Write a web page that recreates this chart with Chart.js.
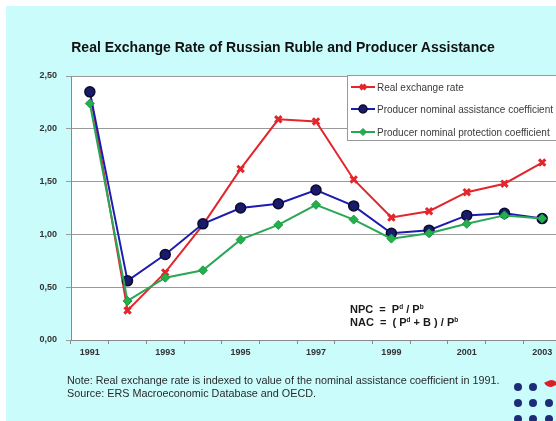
<!DOCTYPE html>
<html>
<head>
<meta charset="utf-8">
<script src="https://cdn.jsdelivr.net/npm/chart.js@4.4.1/dist/chart.umd.min.js"></script>
<style>
  html, body { margin: 0; padding: 0; width: 556px; height: 421px; overflow: hidden; background: #fff; }
  .panel { position: absolute; left: 6px; top: 6px; width: 560px; height: 420px; background: #cafcfc; }
  #chartBox { position: absolute; left: 0; top: 0; width: 600px; height: 421px; }
  .title { position: absolute; left: 0; width: 566px; top: 39px; text-align: center;
           font: bold 14px "Liberation Sans", Arial, sans-serif; color: #111; }
  .legend { position: absolute; left: 347px; top: 75px; width: 220px; height: 64px;
            background: #fff; border: 1px solid #9a9a9a; }
  .legend-row { position: absolute; left: 2px; height: 14px; display: flex; align-items: center;
                font: 10px "Liberation Sans", Arial, sans-serif; color: #3a3a3a; white-space: nowrap; }
  .legend-row canvas { margin-right: 1px; }
  .formula { position: absolute; left: 350px; font: bold 11px "Liberation Sans", Arial, sans-serif; color: #1a1a1a; white-space: pre; }
  .formula sup { font-size: 6.5px; vertical-align: 4px; }
  .note { position: absolute; left: 67px; font: 10.8px "Liberation Sans", Arial, sans-serif; color: #2a2a2a; white-space: nowrap; }
  .dot { position: absolute; width: 8px; height: 8px; border-radius: 50%; background: #1e2c78; }
  .leaf { position: absolute; left: 545px; top: 380px; width: 12px; height: 7px; background: #d8202a;
          border-radius: 0 8px 0 8px; transform: rotate(-25deg); }
</style>
</head>
<body>
<div class="panel"></div>
<div id="chartBox"><canvas id="rateChart" width="600" height="421"></canvas></div>
<div class="title">Real Exchange Rate of Russian Ruble and Producer Assistance</div>
<div class="legend" id="legend"></div>
<div class="formula" style="top:303px">NPC  =  P<sup>d</sup> / P<sup>b</sup></div>
<div class="formula" style="top:316px">NAC  =  ( P<sup>d</sup> + B ) / P<sup>b</sup></div>
<div class="note" style="top:374px">Note:  Real exchange rate is indexed to value of the nominal assistance coefficient in 1991.</div>
<div class="note" style="top:387px">Source: ERS Macroeconomic Database and OECD.</div>
<div id="logo"></div>
<div class="leaf"></div>

<script>
// Years and series
const years = ['1991', '1992', '1993', '1994', '1995', '1996', '1997',
               '1998', '1999', '2000', '2001', '2002', '2003'];
const realExchangeRate = [2.35, 0.28, 0.64, 1.09, 1.62, 2.09, 2.07, 1.52, 1.16, 1.22, 1.40, 1.48, 1.68];
const assistanceCoef   = [2.35, 0.56, 0.81, 1.10, 1.25, 1.29, 1.42, 1.27, 1.01, 1.04, 1.18, 1.20, 1.15];
const protectionCoef   = [2.24, 0.37, 0.59, 0.66, 0.95, 1.09, 1.28, 1.14, 0.96, 1.01, 1.10, 1.18, 1.15];
const seriesNames = ['Real exchange rate',
                     'Producer nominal assistance coefficient',
                     'Producer nominal protection coefficient'];
const yTicks = [0, 0.5, 1, 1.5, 2, 2.5];

// white plot area behind the lines
const plotBackground = {
  id: 'plotBackground',
  beforeDraw(chart) {
    const a = chart.chartArea;
    const ctx = chart.ctx;
    ctx.save();
    ctx.fillStyle = '#ffffff';
    ctx.fillRect(a.left, a.top, a.right - a.left, a.bottom - a.top);
    ctx.restore();
  }
};

const styles = [
  { color: '#e3262b', point: 'crossRot', radius: 4.5, pointBg: '#e3262b', pointBorder: '#e3262b', pointWidth: 3 },
  { color: '#1c1cb0', point: 'circle',   radius: 5,   pointBg: '#1a1a6a', pointBorder: '#0b0b30', pointWidth: 1.5 },
  { color: '#28a855', point: 'rectRot',  radius: 4.5, pointBg: '#22b04c', pointBorder: '#1d9a42', pointWidth: 1 }
];
const values = [realExchangeRate, assistanceCoef, protectionCoef];

const ctx = document.getElementById('rateChart').getContext('2d');
const rateChart = new Chart(ctx, {
  type: 'line',
  data: {
    labels: years,
    datasets: values.map((v, i) => ({
      label: seriesNames[i],
      data: v,
      borderColor: styles[i].color,
      borderWidth: 2,
      pointStyle: styles[i].point,
      pointRadius: styles[i].radius,
      pointBackgroundColor: styles[i].pointBg,
      pointBorderColor: styles[i].pointBorder,
      pointBorderWidth: styles[i].pointWidth,
      tension: 0,
      order: 3 - i
    }))
  },
  options: {
    responsive: false,
    animation: false,
    layout: { padding: { left: 0, top: 76, right: 39, bottom: 0 } },
    plugins: { legend: { display: false }, tooltip: { enabled: false }, title: { display: false } },
    scales: {
      x: {
        offset: true,
        afterFit(scale) { scale.height = 81; },
        border: { color: '#8a8a8a', width: 1 },
        grid: { offset: true, drawOnChartArea: false, drawTicks: true, tickLength: 4, color: '#8a8a8a' },
        ticks: {
          autoSkip: false,
          maxRotation: 0,
          padding: 3,
          color: '#333',
          font: { family: 'Liberation Sans, Arial', size: 9, weight: 'bold' },
          callback: (val, idx) => (idx % 2 === 0 ? years[idx] : '')
        }
      },
      y: {
        min: 0,
        max: 2.5,
        afterFit(scale) { scale.width = 71; },
        afterBuildTicks(scale) { scale.ticks = yTicks.map(v => ({ value: v })); },
        border: { color: '#8a8a8a', width: 1 },
        grid: { color: '#9a9a9a', tickLength: 5, lineWidth: 1 },
        ticks: {
          padding: 9,
          color: '#333',
          font: { family: 'Liberation Sans, Arial', size: 9, weight: 'bold' },
          callback: v => v.toFixed(2).replace('.', ',')
        }
      }
    }
  },
  plugins: [plotBackground]
});

// Legend box, one row per series with its line and marker
const legend = document.getElementById('legend');
const rowTops = [4, 26, 49];
seriesNames.forEach((name, i) => {
  const row = document.createElement('div');
  row.className = 'legend-row';
  row.style.top = rowTops[i] + 'px';
  const icon = document.createElement('canvas');
  icon.width = 26; icon.height = 12;
  const c = icon.getContext('2d');
  c.strokeStyle = styles[i].color;
  c.lineWidth = 2;
  c.beginPath(); c.moveTo(1, 6); c.lineTo(25, 6); c.stroke();
  c.fillStyle = styles[i].pointBg;
  c.strokeStyle = styles[i].pointBorder;
  c.lineWidth = styles[i].pointWidth;
  Chart.helpers.drawPoint(c, { pointStyle: styles[i].point, radius: styles[i].radius - 1, borderWidth: styles[i].pointWidth }, 13, 6);
  row.appendChild(icon);
  const label = document.createElement('span');
  label.textContent = name;
  row.appendChild(label);
  legend.appendChild(row);
});

// corner dots
const logo = document.getElementById('logo');
[[514, 383], [529, 383], [514, 399], [529, 399], [545, 399], [514, 415], [529, 415], [545, 415]].forEach(p => {
  const d = document.createElement('div');
  d.className = 'dot';
  d.style.left = p[0] + 'px';
  d.style.top = p[1] + 'px';
  logo.appendChild(d);
});
</script>
</body>
</html>
